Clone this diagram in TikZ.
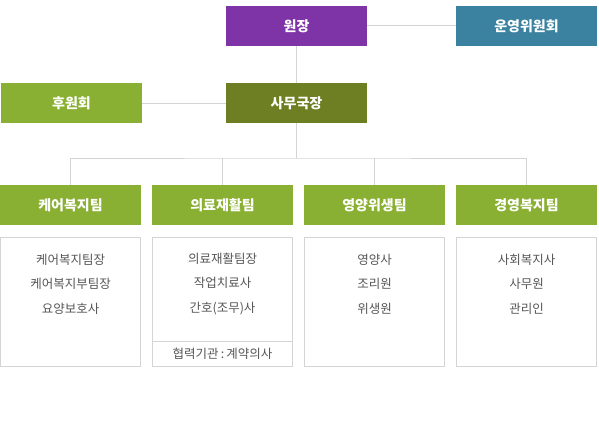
\documentclass[tikz,border=0pt]{standalone}
\usepackage{fontspec}
\setmainfont{Noto Sans CJK KR}
\definecolor{chiefpurple}{RGB}{126,51,166}
\definecolor{boardteal}{RGB}{58,130,160}
\definecolor{teamgreen}{RGB}{138,176,51}
\definecolor{officeolive}{RGB}{110,126,34}
\definecolor{linegray}{RGB}{212,212,212}
\definecolor{textgray}{RGB}{85,85,85}
\begin{document}
\begin{tikzpicture}[x=1pt,y=-1pt,
    headbox/.style={fill=#1, minimum width=141pt, minimum height=40pt, inner sep=0pt,
                    text=white, font=\fontsize{14}{16}\selectfont\bfseries},
    staffbox/.style={draw=linegray, line width=1pt, minimum width=140pt, minimum height=129pt,
                     inner sep=0pt, anchor=north},
    stafftext/.style={text=textgray, align=center, inner sep=0pt,
                      font=\fontsize{12.5}{24.5}\selectfont},
    link/.style={draw=linegray, line width=1pt}]
    \useasboundingbox (0,0) rectangle (599,420);

    % top rows
    \node[headbox=chiefpurple] (chief) at (296.5,26) {원장};
    \node[headbox=boardteal] (board) at (526.5,26) {운영위원회};
    \node[headbox=teamgreen] (support) at (71.5,103) {후원회};
    \node[headbox=officeolive] (office) at (296.5,103) {사무국장};

    \draw[link] (chief.east) -- (board.west);
    \draw[link] (chief.south) -- (office.north);
    \draw[link] (support.east) -- (office.west);

    % teams
    \node[headbox=teamgreen] (care) at (70.5,205) {케어복지팀};
    \node[headbox=teamgreen] (rehab) at (222.5,205) {의료재활팀};
    \node[headbox=teamgreen] (food) at (374.5,205) {영양위생팀};
    \node[headbox=teamgreen] (admin) at (526.5,205) {경영복지팀};

    \coordinate (bus) at (296.5,158);
    \draw[link] (office.south) -- (bus);
    \draw[link] (care.north) |- (bus) -| (admin.north);
    \draw[link] (rehab.north) -- (rehab.north |- bus);
    \draw[link] (food.north) -- (food.north |- bus);

    % staff boxes
    \node[staffbox] (carestaff) at (70.5,236.5) {};
    \node[staffbox] (rehabstaff) at (222.5,236.5) {};
    \node[staffbox] (foodstaff) at (374.5,236.5) {};
    \node[staffbox] (adminstaff) at (526.5,236.5) {};

    \node[stafftext] at (70.5,284) {케어복지팀장\\케어복지부팀장\\요양보호사};
    \node[stafftext] at (222.5,284) {의료재활팀장\\작업치료사\\간호(조무)사};
    \node[stafftext] at (374.5,284) {영양사\\조리원\\위생원};
    \node[stafftext] at (526.5,284) {사회복지사\\사무원\\관리인};

    \draw[link] (rehabstaff.west |- 0,341) -- (rehabstaff.east |- 0,341);
    \node[stafftext] (partner) at (222.5,353.5) {협력기관\,:\,계약의사};
\end{tikzpicture}
\end{document}
